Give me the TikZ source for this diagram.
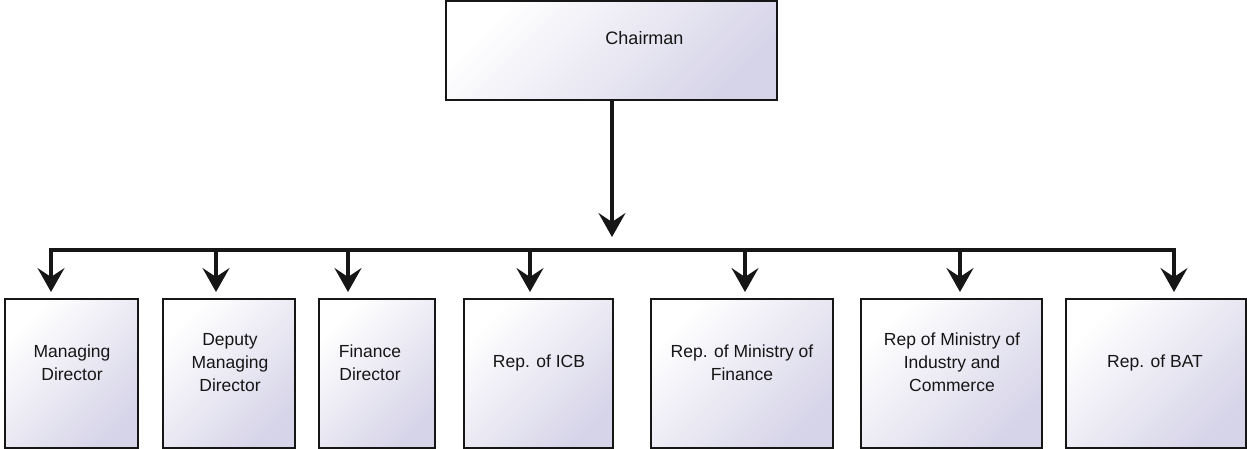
\documentclass[tikz,border=0pt]{standalone}
\usepackage{fontspec}
\setmainfont{Liberation Sans}
\usetikzlibrary{arrows.meta,calc}
\definecolor{boxshade}{RGB}{214,212,232}
\definecolor{ink}{RGB}{22,22,22}
\tikzset{
  orgbox/.style={draw=ink, line width=1.7pt, inner sep=0pt, outer sep=0pt,
    anchor=north west, top color=white, bottom color=boxshade, shading angle=45},
  lbl/.style={align=center, text=ink, font=\fontsize{17.5}{23}\selectfont, inner sep=0pt},
  bus/.style={draw=ink, line width=3.2pt},
  arr/.style={draw=ink, line width=3.2pt,
    -{Stealth[length=24pt,width=27pt,inset=9pt]}}
}
\begin{document}
\begin{tikzpicture}[x=1pt,y=-1pt]
\useasboundingbox (0,0) rectangle (1247,449);

% top box
\node[orgbox, minimum width=331pt, minimum height=99pt] (chair) at (446,1) {};
\node[lbl, font=\fontsize{18}{23}\selectfont] (chairtxt) at ($(chair.center)+(33,-12)$) {Chairman};

% board members
\node[orgbox, minimum width=133pt, minimum height=149pt] (b1) at (5,299) {};
\node[orgbox, minimum width=132pt, minimum height=149pt] (b2) at (163,299) {};
\node[orgbox, minimum width=116pt, minimum height=149pt] (b3) at (319,299) {};
\node[orgbox, minimum width=149pt, minimum height=149pt] (b4) at (464,299) {};
\node[orgbox, minimum width=182pt, minimum height=149pt] (b5) at (651,299) {};
\node[orgbox, minimum width=181pt, minimum height=149pt] (b6) at (861,299) {};
\node[orgbox, minimum width=180pt, minimum height=149pt] (b7) at (1066,299) {};

\node[lbl] (t1) at ($(b1.center)+(0.5,-11)$) {Managing\\Director};
\node[lbl] (t2) at ($(b2.center)+(1,-11)$) {Deputy\\Managing\\Director};
\node[lbl] (t3) at ($(b3.center)+(-7,-11)$) {Finance\\Director};
\node[lbl] (t4) at ($(b4.center)+(0.5,-11)$) {Rep. of ICB};
\node[lbl] (t5) at ($(b5.center)+(0,-11)$) {Rep. of Ministry of\\Finance};
\node[lbl] (t6) at ($(b6.center)+(0.5,-11)$) {Rep of Ministry of\\Industry and\\Commerce};
\node[lbl] (t7) at ($(b7.center)+(-1,-11)$) {Rep. of BAT};

% connector points
\coordinate (ctip) at (612,237);
\coordinate (busL) at (51,250);
\coordinate (busR) at (1174,250);
\coordinate (p1) at (51,250);   \coordinate (e1) at (51,292);
\coordinate (p2) at (216,250);  \coordinate (e2) at (216,292);
\coordinate (p3) at (348,250);  \coordinate (e3) at (348,292);
\coordinate (p4) at (530,250);  \coordinate (e4) at (530,292);
\coordinate (p5) at (745,250);  \coordinate (e5) at (745,292);
\coordinate (p6) at (960,250);  \coordinate (e6) at (960,292);
\coordinate (p7) at (1174,250); \coordinate (e7) at (1174,292);

% chairman to board
\draw[arr] (chair.south -| ctip) -- (ctip);
\draw[bus, line cap=rect] (busL) -- (busR);
\foreach \i in {1,...,7} {
  \draw[arr] (p\i) -- (e\i);
}
\end{tikzpicture}
\end{document}
